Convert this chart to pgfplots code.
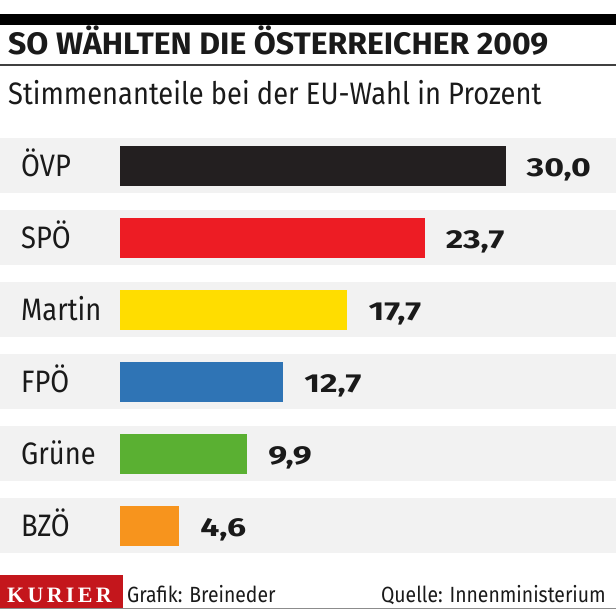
\documentclass[border=0pt]{standalone}
\usepackage{pgfplots}
\pgfplotsset{compat=1.18}
\usepackage{fontspec}
\setmainfont{Fira Sans}[FakeStretch=0.88]
\newfontfamily\titlefont{Fira Sans}[FakeStretch=1.03]
\newfontfamily\valfont{Fira Sans}[FakeStretch=1.3]
\newfontfamily\kurierfont{Liberation Serif}[LetterSpace=15]
\definecolor{cOVP}{HTML}{231F20}
\definecolor{cSPO}{HTML}{ED1C24}
\definecolor{cMartin}{HTML}{FFDD00}
\definecolor{cFPO}{HTML}{2F74B5}
\definecolor{cGruene}{HTML}{5AB032}
\definecolor{cBZO}{HTML}{F7941D}
\definecolor{band}{HTML}{F2F2F2}
\definecolor{kred}{HTML}{C4161C}
\definecolor{txt}{HTML}{1A1A1A}
\begin{document}
\begin{tikzpicture}[x=1pt,y=1pt]
\useasboundingbox (0,0) rectangle (616,610);
% background bands
\foreach \c in {166,238,310,382,454,526}{
  \fill[band] (0,{610-\c-27.5}) rectangle (616,{610-\c+27.5});
}
% top black bar and rule
\fill[black] (0,596) rectangle (616,585);
\draw[black!75, line width=1.3pt] (0,545) -- (616,545);
\node[anchor=base west, inner sep=0pt, text=txt, font=\titlefont\bfseries\fontsize{31}{34}\selectfont] at (8,555) {SO WÄHLTEN DIE ÖSTERREICHER 2009};
\node[anchor=base west, inner sep=0pt, text=txt, font=\fontsize{31}{36}\selectfont] at (8,505) {Stimmenanteile bei der EU-Wahl in Prozent};
% footer
\fill[kred] (0,2) rectangle (123,35);
\draw[black!45, line width=1pt] (0,1.5) -- (616,1.5);
\node[anchor=base west, inner sep=0pt, text=white, font=\kurierfont\bfseries\fontsize{22}{24}\selectfont] at (7,7) {KURIER};
\node[anchor=base west, inner sep=0pt, text=txt, font=\fontsize{22}{24}\selectfont] at (127,7) {Grafik: Breineder};
\node[anchor=base east, inner sep=0pt, text=txt, font=\fontsize{22}{24}\selectfont] at (606,7) {Quelle: Innenministerium};
\begin{axis}[
  at={(0pt,480pt)}, anchor=north west,
  scale only axis, width=616pt, height=432pt,
  xmin=-9.339, xmax=38.599, ymin=-0.5, ymax=5.5,
  y dir=reverse,
  axis line style={draw=none},
  xtick=\empty,
  ytick={0,1,2,3,4,5},
  yticklabels={ÖVP,SPÖ,Martin,FPÖ,Grüne,BZÖ},
  major tick length=0pt,
  yticklabel style={anchor=base west, inner sep=0pt, xshift=21pt, yshift=-11pt, text=txt, font=\fontsize{31}{34}\selectfont},
  xbar, bar width=40pt,
  nodes near coords,
  nodes near coords style={anchor=base west, inner sep=0pt, xshift=21pt, yshift=-10.5pt, text=txt, font=\valfont\bfseries\fontsize{26}{28}\selectfont},
  /pgf/number format/.cd, fixed, fixed zerofill, precision=1, use comma, assume math mode=true,
  /pgfplots/.cd,
  clip=false,
]
\addplot[fill=cOVP, draw=none, bar shift=0pt] coordinates {(30.0,0)};
\addplot[fill=cSPO, draw=none, bar shift=0pt] coordinates {(23.7,1)};
\addplot[fill=cMartin, draw=none, bar shift=0pt] coordinates {(17.7,2)};
\addplot[fill=cFPO, draw=none, bar shift=0pt] coordinates {(12.7,3)};
\addplot[fill=cGruene, draw=none, bar shift=0pt] coordinates {(9.9,4)};
\addplot[fill=cBZO, draw=none, bar shift=0pt] coordinates {(4.6,5)};
\end{axis}
\end{tikzpicture}
\end{document}
